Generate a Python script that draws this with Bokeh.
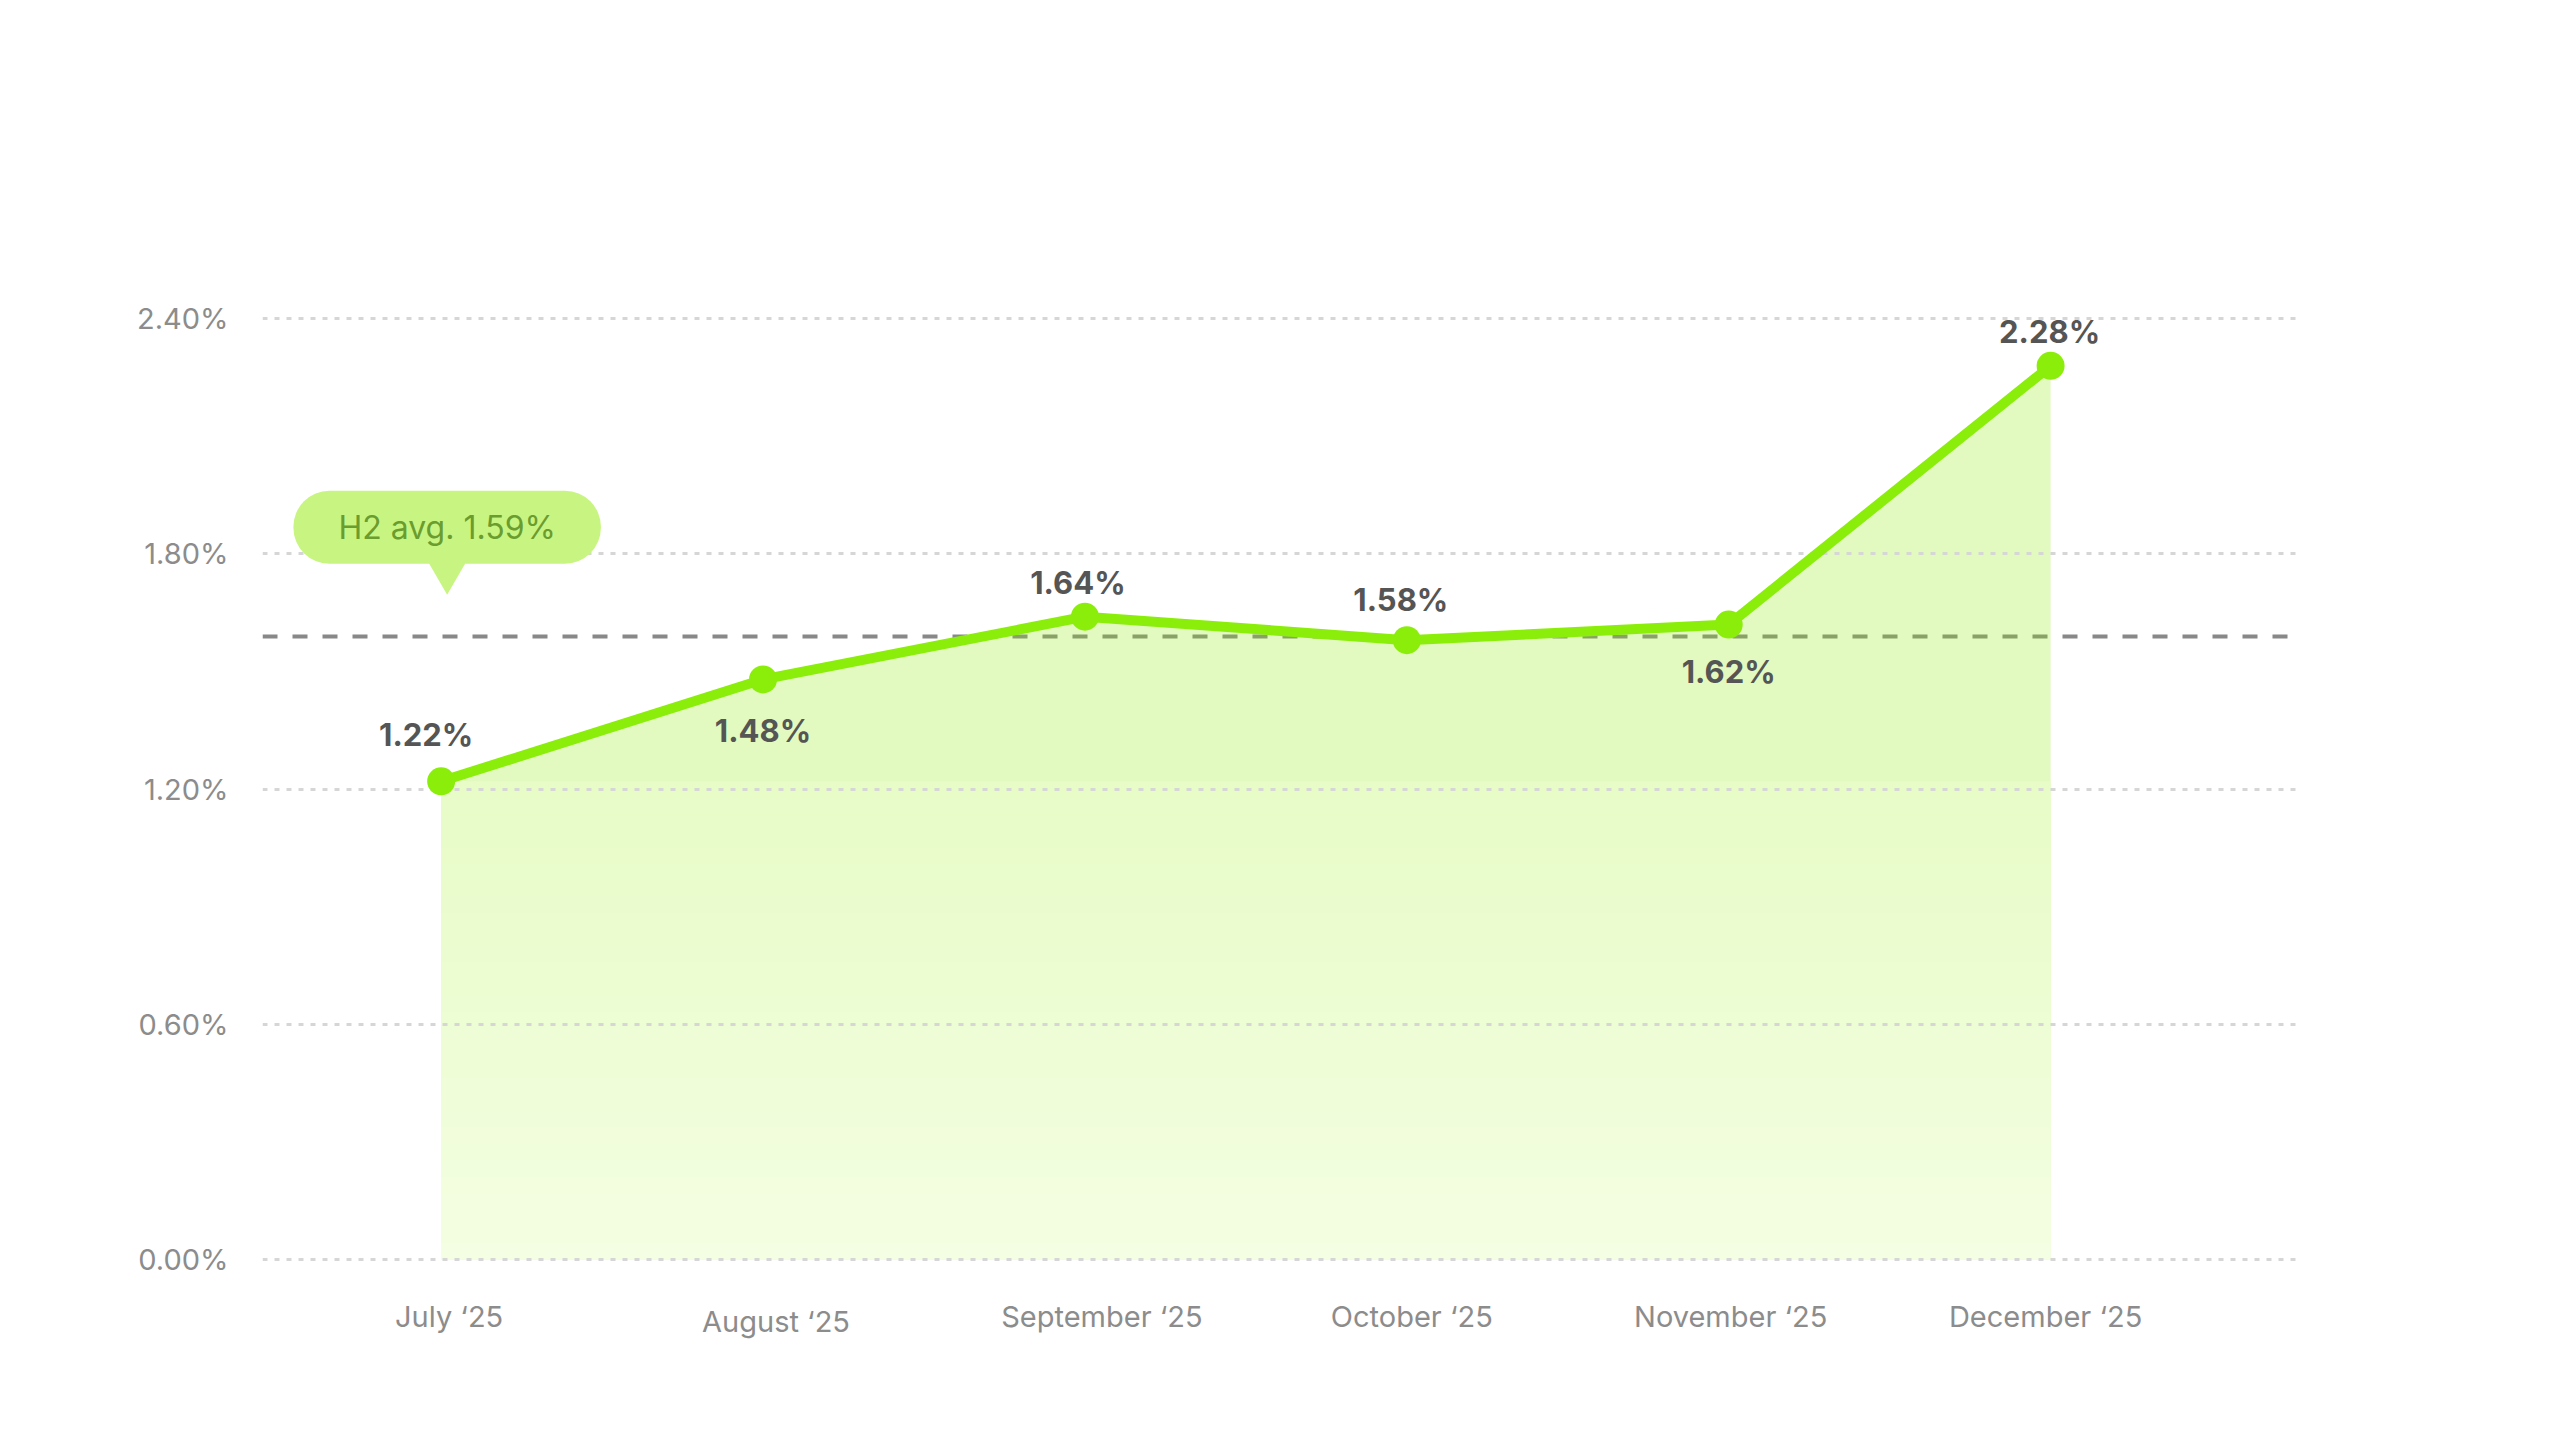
import numpy as np
from bokeh.plotting import figure
from bokeh.models import ColumnDataSource, FixedTicker, PrintfTickFormatter, Label
from bokeh.core.properties import value
from bokeh.embed import file_html
from bokeh.resources import INLINE

# data
months = ["July ‘25", "August ‘25", "September ‘25", "October ‘25", "November ‘25", "December ‘25"]
rates = [1.22, 1.48, 1.64, 1.58, 1.62, 2.28]
avg_rate = 1.59
avg_text = "H2 avg. 1.59%"
y_ticks = [0.0, 0.6, 1.2, 1.8, 2.4]

# label placement (screen px, + is down)
label_dx = [-15, 0, -7, -6, 0, -1]
label_dy = [-47, 51, -34, -41, 47, -34]
month_dx = [8, 13, 17, 5, 2, -5]
month_dy = [57, 62, 57, 57, 57, 57]

LIME = "#8aee0a"
BUBBLE = "#c8f582"
FONT = "Inter"

x = list(range(len(months)))
x_start, x_end = -0.555, 5.767
y_start, y_end = -0.2577, 2.4467
frame_w, frame_h = 2035, 1060
ppu_y = frame_h / (y_end - y_start)
ppu_x = frame_w / (x_end - x_start)

p = figure(width=2544, height=1424, x_range=(x_start, x_end), y_range=(y_start, y_end),
           output_backend="svg", toolbar_location=None,
           min_border_left=262, min_border_right=247, min_border_top=300, min_border_bottom=64)
p.outline_line_color = None
p.xgrid.visible = False
p.ygrid.visible = False
p.xaxis.visible = False

# average line (under the area)
p.hspan(y=[avg_rate], line_color="#888888", line_width=4, line_dash="15 15")

# area with a vertical fade
p.varea(x=x, y1=0, y2=rates, fill_color="#8ceb00", fill_alpha=0.25)

top_rgb = np.array([219, 250, 174])
bot_rgb = np.array([244, 254, 226])
band_tops = np.linspace(min(rates), 0, 30)[:-1]
step = band_tops[0] - band_tops[1]
band_colors = []
for b in band_tops:
    t = (b - step / 2) / max(rates)
    c = bot_rgb + (top_rgb - bot_rgb) * t
    band_colors.append("#%02x%02x%02x" % tuple(int(round(v)) for v in c))
p.quad(left=x[0], right=x[-1], bottom=0, top=band_tops, fill_color=band_colors, line_color=None)

# gridlines
p.hspan(y=y_ticks, line_color="#d6d6d6", line_width=3, line_dash="5 7")

# series
p.line(x, rates, line_color=LIME, line_width=10, line_join="round")
p.scatter(x, rates, size=28, fill_color=LIME, line_color=None)

src = ColumnDataSource(dict(x=x, y=rates, t=["%.2f%%" % r for r in rates], dx=label_dx, dy=label_dy))
p.text(x="x", y="y", text="t", x_offset="dx", y_offset="dy", source=src,
       text_font=value(FONT), text_font_size="31px", text_font_style="bold",
       text_color="#555555", text_align="center", text_baseline="middle")

# month labels
msrc = ColumnDataSource(dict(x=x, y=[0] * len(x), t=months, dx=month_dx, dy=month_dy))
p.text(x="x", y="y", text="t", x_offset="dx", y_offset="dy", source=msrc,
       text_font=value(FONT), text_font_size="29px", text_color="#8c8c8c",
       text_align="center", text_baseline="middle")

# average callout
tail_x = x[0] + 6 / ppu_x
tail_y = avg_rate + 68 / ppu_y
p.scatter([tail_x], [tail_y], marker="inverted_triangle", size=46, fill_color=BUBBLE, line_color=None)
p.add_layout(Label(x=x[0], y=avg_rate, x_offset=6, y_offset=109, text=avg_text, text_font=FONT,
                   text_font_size="32px", text_color="#6b9c2e", text_align="center",
                   text_baseline="middle", background_fill_color=BUBBLE,
                   padding=dict(left=45, right=45, top=17, bottom=17), border_radius=36))

# y axis
p.yaxis.ticker = FixedTicker(ticks=y_ticks)
p.yaxis.formatter = PrintfTickFormatter(format="%.2f%%")
p.yaxis.axis_line_color = None
p.yaxis.major_tick_line_color = None
p.yaxis.minor_tick_line_color = None
p.yaxis.major_label_text_font = FONT
p.yaxis.major_label_text_font_size = "29px"
p.yaxis.major_label_text_color = "#8c8c8c"
p.yaxis.major_label_standoff = 28

open("out.html", "w").write(file_html(p, INLINE))
